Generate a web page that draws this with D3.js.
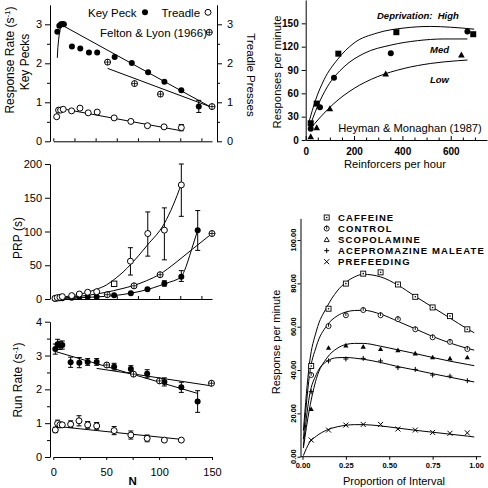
<!DOCTYPE html>
<html><head><meta charset="utf-8">
<script src="https://cdn.jsdelivr.net/npm/d3@7"></script>
<style>
body{margin:0;background:#fff}
svg{display:block}
text{font-family:"Liberation Sans",Arial,sans-serif;fill:#000}
</style>
</head><body>
<svg id="c" width="488" height="488"></svg>
<script>
// ---------- Panel A: response rate vs N ----------
const aKeyPeckN = [3.8,5.7,7.3,8.8,10,17.6,25.5,33.7,41.5,58,74.2,89.6,105,121,137.5];
const aKeyPeckRate = [2.81,2.96,3.0,3.01,3.0,2.43,2.38,2.28,2.28,2.16,2.01,1.77,1.53,1.31,0.89];
const aTreadleN = [3.2,5,6.9,9.4,17.3,25.2,33,41.5,57.5,73.3,89,104.7,121];
const aTreadleRate = [0.63,0.80,0.80,0.82,0.78,0.85,0.73,0.75,0.60,0.51,0.40,0.37,0.35];
const aFeltonN = [51.3,76.8,101.3,150];
const aFeltonRate = [2.03,1.48,1.21,0.89];
const aErrN = [137.5,121];
const aErrLo = [0.74,0.27];
const aErrHi = [1.05,0.43];
const aFitKeyPeckN = [3.8,4.3,5,5.8,6.7,8,9.5,150];
const aFitKeyPeckRate = [2.14,2.4,2.6,2.78,2.9,2.95,2.96,0.86];
const aFitTreadleN = [2,3,4,5,6,7.5,9.4,121];
const aFitTreadleRate = [0.64,0.71,0.75,0.78,0.8,0.82,0.83,0.27];
const aFitFeltonN = [51.3,150];
const aFitFeltonRate = [1.87,0.87];
const aTicks = [0,1,2,3];

// ---------- Panel B: PRP vs N ----------
const bOpenN = [1.6,3.8,6.3,8.5,17.4,24.6,32.5,41,72.9,89.3,105,121];
const bOpenPRP = [1,2,2.5,3.5,5,7.4,10,10.8,56,97,102,169];
const bOpenErrN = [72.9,89.3,105,121];
const bOpenErrLo = [35.5,63.5,58,122.5];
const bOpenErrHi = [76,129,135,200];
const bFilledN = [1.6,3.8,6.3,8.5,17.4,24.6,32.5,41,57.5,73.3,89,105,121,136.5];
const bFilledPRP = [0.5,0.8,1,1.2,2,3,3.5,3.5,5.5,8.5,14.5,23,33,102];
const bFilledErrN = [105,121,136.5];
const bFilledErrLo = [19,26,72];
const bFilledErrHi = [27,42,131];
const bFeltonN = [51,76.3,101,150];
const bFeltonPRP = [6.4,19.5,36,97];
const bSquareN = [57.5];
const bSquarePRP = [22.5];
const bFitOpenN = [1.6,10,20,29,40,50.5,60,66,73,89,105,113,121];
const bFitOpenPRP = [1,3,5.5,8.5,14,21,32,40,51,80,112,138,170];
const bFitFilledN = [1.6,20,40,57,73,89,100,110,117,121,124,127,131,136.5];
const bFitFilledPRP = [0.5,1.5,3,5,8.5,14,19.5,25,29,33,42,55,75,102];
const bFitFeltonN = [1.6,20,35,50,64,76,88,101,115,130,150];
const bFitFeltonPRP = [0.5,3,6,10,15,20,27,37,53,72,97];
const bTicks = [0,50,100,150,200];

// ---------- Panel C: run rate vs N ----------
const cFilledN = [1.9,4.1,6.3,8.5,16.4,24.6,32.5,41,57.5,73.3,88.7,105,121,136.4];
const cFilledRate = [3.19,3.33,3.30,3.31,2.80,2.79,2.81,2.81,2.67,2.60,2.46,2.22,2.06,1.64];
const cFilledErr = [0.15,0.15,0.12,0.12,0.15,0.15,0.1,0.1,0.1,0.1,0.12,0.12,0.15,0.32];
const cOpenN = [1.9,4.1,6.3,8.5,16.4,24.3,32.5,41,57.5,73.3,88.7,105,121];
const cOpenRate = [0.8,0.99,0.95,0.95,0.97,1.07,0.95,0.92,0.78,0.65,0.55,0.50,0.50];
const cOpenErr = [0.08,0.1,0.08,0.06,0.1,0.15,0.1,0.1,0.12,0.12,0.1,0.05,0.04];
const cFeltonN = [50.5,75.8,100.4,149.5];
const cFeltonRate = [2.72,2.45,2.25,2.18];
const cFitKeyPeckN = [1.9,136.4];
const cFitKeyPeckRate = [3.12,1.88];
const cFitFeltonN = [41,150];
const cFitFeltonRate = [2.62,2.1];
const cFitTreadleN = [1.9,121.5];
const cFitTreadleRate = [0.91,0.52];
const cTicks = [0,1,2,3,4];
const nTicks = [0,50,100,150];

// ---------- Panel D: Heyman & Monaghan ----------
const dHighR = [20.7,45.5,135,375,693];
const dHighResp = [21.5,46.8,111,138.6,136];
const dMedR = [20.7,59,117,352,669];
const dMedResp = [14.6,42,80,111.6,139.5];
const dLowR = [20.7,45.5,100,331,644];
const dLowResp = [4.3,15.9,40.3,85,109.4];
const dFitHighR = [14,41,76,131,200,296,407,517,600,697];
const dFitHighResp = [23.6,51.5,77.5,103.3,124.7,137.6,144,146,145,142.5];
const dFitMedR = [14,48,89.5,158.6,241,352,462,572,669];
const dFitMedResp = [14.9,42.6,68.4,94.1,111.3,122,127.7,129.9,129.9];
const dFitLowR = [14,62,117,200,296,407,517,627,669];
const dFitLowResp = [12.6,29.8,47,66.3,81.3,92,98.4,101.9,102.8];
const dYTicks = [0,30,60,90,120,150];
const dXTicks = [0,200,400,600];

// ---------- Panel E: response per minute vs proportion of interval ----------
const eLegend = ["CAFFEINE","CONTROL","SCOPOLAMINE","ACEPROMAZINE MALEATE","PREFEEDING"];
const eX = [0.05,0.15,0.25,0.35,0.45,0.55,0.65,0.75,0.85,0.95];
const eCaffeine = [41.9,68.3,79.9,84.5,85.1,79.5,73.8,68.9,64.9,58.8];
const eControl = [37.7,60.3,65.3,67.7,65.3,63.5,58.8,55.1,53.0,49.7];
const eScopolamine = [22,50.3,51.4,50.8,49.7,49.2,47.7,45.9,45.4,45.9];
const eAcepromazine = [30,44.2,45.1,45.4,44.2,41.1,40.3,37.7,37.2,35.1];
const ePrefeeding = [7.7,12.3,14.6,14.9,14.9,12.8,12.3,11.2,10.8,11];
const eFitX = [0.005,0.04,0.08,0.14,0.2,0.25,0.3,0.35,0.45,0.55,0.65,0.75,0.85,0.95,0.99];
const eFitCaffeine = [12,43,58,69,76.5,80.5,83,84.2,83,79.2,74,69,64,59,57.2];
const eFitControl = [8,37.5,51,60.5,65,66.8,67.5,67.6,65.8,62.5,59,55.5,52.5,50,49.2];
const eFitScopolamine = [4,22,36,45.5,50,51.8,52.3,52.3,51,49.3,47.6,45.8,44.1,42.6,42];
const eFitAcepromazine = [5,28,38,44,45.7,45.8,45.5,45,43.5,41.6,40,38.3,36.7,35.1,34.5];
const eFitPrefeeding = [0.5,6.5,9.5,12.3,13.8,14.5,14.8,14.8,14.2,13.2,12.2,11.3,10.4,9.5,9.1];
const eYTicks = [0,20,40,60,80,100];
const eXTicks = [0,0.25,0.5,0.75,1];

// ================= drawing =================
const svg = d3.select("#c");
const zip = (a,b) => a.map((v,i)=>[v,b[i]]);
const fmtInt = d3.format("d");

function styleAxis(g, fs, weight, family){
  g.selectAll("path,line").attr("stroke","#000").attr("stroke-width",1);
  g.selectAll("text").attr("font-size",fs).attr("font-weight",weight||"normal")
   .attr("font-family",family||"Liberation Sans, Arial, sans-serif").attr("fill","#000");
  g.attr("font-family",null);
}
function marker(g, type, x, y, r){
  r = r||3;
  if(type==="filled") g.append("circle").attr("cx",x).attr("cy",y).attr("r",r).attr("fill","#000");
  else if(type==="open") g.append("circle").attr("cx",x).attr("cy",y).attr("r",r).attr("fill","#fff").attr("stroke","#000");
  else if(type==="felton"){
    g.append("circle").attr("cx",x).attr("cy",y).attr("r",r).attr("fill","#fff").attr("stroke","#000");
    g.append("line").attr("x1",x-r).attr("x2",x+r).attr("y1",y).attr("y2",y).attr("stroke","#000").attr("stroke-width",0.8);
    g.append("line").attr("x1",x).attr("x2",x).attr("y1",y-r).attr("y2",y+r).attr("stroke","#000").attr("stroke-width",0.8);
  }
  else if(type==="square") g.append("rect").attr("x",x-r).attr("y",y-r).attr("width",2*r).attr("height",2*r).attr("fill","#fff").attr("stroke","#000");
  else if(type==="sqdot"){
    g.append("rect").attr("x",x-r).attr("y",y-r).attr("width",2*r).attr("height",2*r).attr("fill","#fff").attr("stroke","#000").attr("stroke-width",0.9);
    g.append("circle").attr("cx",x).attr("cy",y).attr("r",0.8).attr("fill","#000");
  }
  else if(type==="cirbar"){
    g.append("circle").attr("cx",x).attr("cy",y).attr("r",r).attr("fill","#fff").attr("stroke","#000").attr("stroke-width",0.9);
    g.append("line").attr("x1",x).attr("x2",x).attr("y1",y-r-0.5).attr("y2",y+r*0.3).attr("stroke","#000").attr("stroke-width",0.9);
  }
  else if(type==="tri") g.append("path").attr("d",`M${x},${y-r}L${x+r},${y+r*0.8}L${x-r},${y+r*0.8}Z`).attr("fill","#000");
  else if(type==="trio") g.append("path").attr("d",`M${x},${y-r}L${x+r},${y+r*0.8}L${x-r},${y+r*0.8}Z`).attr("fill","none").attr("stroke","#000").attr("stroke-width",0.9);
  else if(type==="plus"){
    g.append("path").attr("d",`M${x-r},${y}H${x+r}M${x},${y-r}V${y+r}`).attr("stroke","#000").attr("stroke-width",1);
  }
  else if(type==="cross"){
    g.append("path").attr("d",`M${x-r},${y-r}L${x+r},${y+r}M${x-r},${y+r}L${x+r},${y-r}`).attr("stroke","#000").attr("stroke-width",1);
  }
}
function errbar(g, x, y1, y2){
  g.append("path").attr("d",`M${x},${y1}V${y2}M${x-2.5},${y1}H${x+2.5}M${x-2.5},${y2}H${x+2.5}`)
   .attr("stroke","#000").attr("stroke-width",1).attr("fill","none");
}
function line(g, pts, xs, ys, curve){
  g.append("path").attr("d", d3.line().x(d=>xs(d[0])).y(d=>ys(d[1])).curve(curve||d3.curveLinear)(pts))
   .attr("fill","none").attr("stroke","#000").attr("stroke-width",1);
}
function rotText(x, y, str, size, angle, opts){
  const t = svg.append("text").attr("transform",`translate(${x},${y}) rotate(${angle})`)
    .attr("text-anchor","middle").attr("dy","0.35em").attr("font-size",size);
  if(opts && opts.family) t.attr("font-family",opts.family);
  if(opts && opts.weight) t.attr("font-weight",opts.weight);
  return t;
}

const xN = d3.scaleLinear().domain([0,150]).range([53.3,212]);
const halfTicks = [0.5,1.5,2.5];

// ----- Panel A -----
{
  const y = d3.scaleLinear().domain([0,3.5]).range([141.3,4.8]);
  const g = svg.append("g");
  const gl = g.append("g").attr("transform","translate(50,0)")
    .call(d3.axisLeft(y).tickValues(aTicks).tickFormat(fmtInt).tickSizeInner(5).tickSizeOuter(0).tickPadding(3));
  styleAxis(gl, 11);
  const glm = g.append("g").attr("transform","translate(50,0)")
    .call(d3.axisLeft(y).tickValues(halfTicks).tickSize(3).tickFormat(""));
  glm.select(".domain").remove(); styleAxis(glm, 11);
  const gr = g.append("g").attr("transform","translate(217,0)")
    .call(d3.axisRight(y).tickValues(aTicks).tickFormat(fmtInt).tickSizeInner(5).tickSizeOuter(0).tickPadding(5));
  styleAxis(gr, 11);
  const grm = g.append("g").attr("transform","translate(217,0)")
    .call(d3.axisRight(y).tickValues(halfTicks).tickSize(3).tickFormat(""));
  grm.select(".domain").remove(); styleAxis(grm, 11);
  const gx = g.append("g").attr("transform",`translate(0,${y(0)})`)
    .call(d3.axisBottom(xN).ticks(6).tickSizeInner(-3).tickSizeOuter(0).tickFormat(""));
  styleAxis(gx, 11);

  line(g, zip(aFitKeyPeckN,aFitKeyPeckRate), xN, y);
  line(g, zip(aFitFeltonN,aFitFeltonRate), xN, y);
  line(g, zip(aFitTreadleN,aFitTreadleRate), xN, y);
  aErrN.forEach((n,i)=>errbar(g, xN(n), y(aErrLo[i]), y(aErrHi[i])));
  aKeyPeckN.forEach((n,i)=>marker(g,"filled",xN(n),y(aKeyPeckRate[i])));
  aTreadleN.forEach((n,i)=>marker(g,"open",xN(n),y(aTreadleRate[i])));
  aFeltonN.forEach((n,i)=>marker(g,"felton",xN(n),y(aFeltonRate[i])));

  // legend
  svg.append("text").attr("x",88).attr("y",16.5).attr("font-size",11.5).text("Key Peck");
  marker(g,"filled",145,12.3);
  svg.append("text").attr("x",161.5).attr("y",16.5).attr("font-size",11.5).text("Treadle");
  marker(g,"open",208,12.3);
  svg.append("text").attr("x",100).attr("y",36.5).attr("font-size",11.5).text("Felton & Lyon (1966)");
  marker(g,"felton",209.3,32.3);

  const t1 = rotText(10, 60, "", 12, -90);
  t1.append("tspan").text("Response Rate (s");
  t1.append("tspan").attr("font-size",8).attr("dy",-4).text("-1");
  t1.append("tspan").attr("dy",4).text(")");
  rotText(25, 62, "Key Pecks", 12, -90).text("Key Pecks");
  rotText(251, 75, "Treadle Presses", 11.5, 90).text("Treadle Presses");
}

// ----- Panel B -----
{
  const y = d3.scaleLinear().domain([0,200]).range([299,164]);
  const g = svg.append("g");
  const gl = g.append("g").attr("transform","translate(50,0)")
    .call(d3.axisLeft(y).tickValues(bTicks).tickFormat(fmtInt).tickSizeInner(5).tickSizeOuter(0).tickPadding(3));
  styleAxis(gl, 11);
  const gx = g.append("g").attr("transform",`translate(0,${y(0)})`)
    .call(d3.axisBottom(xN).ticks(6).tickSizeInner(-3).tickSizeOuter(0).tickFormat(""));
  styleAxis(gx, 11);

  line(g, zip(bFitOpenN,bFitOpenPRP), xN, y, d3.curveMonotoneX);
  line(g, zip(bFitFilledN,bFitFilledPRP), xN, y, d3.curveMonotoneX);
  line(g, zip(bFitFeltonN,bFitFeltonPRP), xN, y, d3.curveMonotoneX);
  bOpenErrN.forEach((n,i)=>errbar(g, xN(n), y(bOpenErrLo[i]), y(bOpenErrHi[i])));
  bFilledErrN.forEach((n,i)=>errbar(g, xN(n), y(bFilledErrLo[i]), y(bFilledErrHi[i])));
  bFilledN.forEach((n,i)=>marker(g,"filled",xN(n),y(bFilledPRP[i])));
  bOpenN.forEach((n,i)=>marker(g,"open",xN(n),y(bOpenPRP[i])));
  bFeltonN.forEach((n,i)=>marker(g,"felton",xN(n),y(bFeltonPRP[i])));
  bSquareN.forEach((n,i)=>marker(g,"square",xN(n),y(bSquarePRP[i]),2.7));

  rotText(18, 238, "PRP (s)", 12, -90).text("PRP (s)");
}

// ----- Panel C -----
{
  const y = d3.scaleLinear().domain([0,4]).range([457,321.7]);
  const g = svg.append("g");
  const gl = g.append("g").attr("transform","translate(50,0)")
    .call(d3.axisLeft(y).tickValues(cTicks).tickFormat(fmtInt).tickSizeInner(5).tickSizeOuter(0).tickPadding(3));
  styleAxis(gl, 11);
  const glm = g.append("g").attr("transform","translate(50,0)")
    .call(d3.axisLeft(y).tickValues([0.5,1.5,2.5,3.5]).tickSize(3).tickFormat(""));
  glm.select(".domain").remove(); styleAxis(glm, 11);
  const gx = g.append("g").attr("transform",`translate(0,${y(0)})`)
    .call(d3.axisBottom(xN).tickValues(nTicks).tickFormat(fmtInt).tickSizeInner(3).tickSizeOuter(0).tickPadding(8));
  styleAxis(gx, 11);
  const gxm = g.append("g").attr("transform",`translate(0,${y(0)})`)
    .call(d3.axisBottom(xN).tickValues([25,75,125]).tickSize(3).tickFormat(""));
  gxm.select(".domain").remove(); styleAxis(gxm, 11);

  line(g, zip(cFitKeyPeckN,cFitKeyPeckRate), xN, y);
  line(g, zip(cFitFeltonN,cFitFeltonRate), xN, y);
  line(g, zip(cFitTreadleN,cFitTreadleRate), xN, y);
  cFilledN.forEach((n,i)=>errbar(g, xN(n), y(cFilledRate[i]-cFilledErr[i]), y(cFilledRate[i]+cFilledErr[i])));
  cOpenN.forEach((n,i)=>errbar(g, xN(n), y(cOpenRate[i]-cOpenErr[i]), y(cOpenRate[i]+cOpenErr[i])));
  cFilledN.forEach((n,i)=>marker(g,"filled",xN(n),y(cFilledRate[i])));
  cOpenN.forEach((n,i)=>marker(g,"open",xN(n),y(cOpenRate[i])));
  cFeltonN.forEach((n,i)=>marker(g,"felton",xN(n),y(cFeltonRate[i])));

  const t = rotText(18, 380, "", 12, -90);
  t.append("tspan").text("Run Rate (s");
  t.append("tspan").attr("font-size",8).attr("dy",-4).text("-1");
  t.append("tspan").attr("dy",4).text(")");
  svg.append("text").attr("x",xN(75)).attr("y",485).attr("text-anchor","middle")
    .attr("font-size",11.5).attr("font-weight","bold").text("N");
}

// ----- Panel D -----
{
  const x = d3.scaleLinear().domain([0,750]).range([305.7,487]);
  const y = d3.scaleLinear().domain([0,180]).range([140,0]);
  const g = svg.append("g");
  const gl = g.append("g").attr("transform","translate(305.7,0)")
    .call(d3.axisLeft(y).tickValues(dYTicks).tickFormat(fmtInt).tickSizeInner(4).tickSizeOuter(0).tickPadding(3));
  styleAxis(gl, 10, "bold");
  const gx = g.append("g").attr("transform",`translate(0,${y(0)})`)
    .call(d3.axisBottom(x).tickValues(dXTicks).tickFormat(fmtInt).tickSizeInner(-4).tickSizeOuter(0).tickPadding(8));
  styleAxis(gx, 10, "bold");
  const gxm = g.append("g").attr("transform",`translate(0,${y(0)})`)
    .call(d3.axisBottom(x).tickValues(d3.range(50,750,50).filter(v=>v%200!==0)).tickSize(-2.5).tickFormat(""));
  gxm.select(".domain").remove(); styleAxis(gxm, 10);

  line(g, zip(dFitHighR,dFitHighResp), x, y, d3.curveMonotoneX);
  line(g, zip(dFitMedR,dFitMedResp), x, y, d3.curveMonotoneX);
  line(g, zip(dFitLowR,dFitLowResp), x, y, d3.curveMonotoneX);
  dHighR.forEach((r,i)=>g.append("rect").attr("x",x(r)-3).attr("y",y(dHighResp[i])-3).attr("width",6).attr("height",6).attr("fill","#000"));
  dMedR.forEach((r,i)=>marker(g,"filled",x(r),y(dMedResp[i]),3));
  dLowR.forEach((r,i)=>marker(g,"tri",x(r),y(dLowResp[i]),3.3));

  svg.append("text").attr("x",377).attr("y",18.5).attr("font-size",9.5).attr("font-style","italic").attr("font-weight","bold")
    .text("Deprivation:\u00a0\u00a0High");
  svg.append("text").attr("x",430).attr("y",53).attr("font-size",9.5).attr("font-style","italic").attr("font-weight","bold").text("Med");
  svg.append("text").attr("x",430).attr("y",83).attr("font-size",9.5).attr("font-style","italic").attr("font-weight","bold").text("Low");
  svg.append("text").attr("x",410).attr("y",132).attr("text-anchor","middle").attr("font-size",11.2).text("Heyman & Monaghan (1987)");
  svg.append("text").attr("x",395).attr("y",168).attr("text-anchor","middle").attr("font-size",11.2).text("Reinforcers per hour");
  rotText(277, 72, "", 11.3, -90).text("Responses per minute");
}

// ----- Panel E -----
{
  const x = d3.scaleLinear().domain([0,1]).range([302.5,476]);
  const y = d3.scaleLinear().domain([0,110]).range([456.7,218.4]);
  const g = svg.append("g");
  const mono = "Liberation Mono, DejaVu Sans Mono, monospace";
  const gl = g.append("g").attr("transform","translate(300.5,0)")
    .call(d3.axisLeft(y).tickValues(eYTicks).tickSizeInner(3).tickSizeOuter(0).tickFormat(""));
  styleAxis(gl, 7);
  eYTicks.forEach(v=>rotText(293.5, y(v), "", 7.5, -90, {family:mono, weight:"bold"}).text(d3.format(".2f")(v)));
  const gx = g.append("g").attr("transform",`translate(0,${y(0)})`)
    .call(d3.axisBottom(x).tickValues(eXTicks).tickSizeInner(3).tickSizeOuter(0).tickPadding(2.5).tickFormat(d3.format(".2f")));
  styleAxis(gx, 7.5, "bold", mono);
  gx.select(".domain").attr("d", `M${300.5},0H${x(1.03)}`);

  const series = [
    [eCaffeine, eFitCaffeine, "sqdot"],
    [eControl, eFitControl, "cirbar"],
    [eScopolamine, eFitScopolamine, "tri"],
    [eAcepromazine, eFitAcepromazine, "plus"],
    [ePrefeeding, eFitPrefeeding, "cross"]
  ];
  series.forEach(s=>line(g, zip(eFitX, s[1]), x, y, d3.curveMonotoneX));
  series.forEach(s=>eX.forEach((v,i)=>marker(g, s[2], x(v), y(s[0][i]), s[2]==="tri"?2.6:2.5)));

  const legendMarks = ["sqdot","cirbar","trio","plus","cross"];
  eLegend.forEach((name,i)=>{
    const yy = 217.5 + i*11.05;
    marker(g, legendMarks[i], 326.7, yy, 2.5);
    svg.append("text").attr("x",338).attr("y",yy+3.4).attr("font-size",9.5).attr("font-weight","bold")
      .attr("letter-spacing",1.1).text(name);
  });
  svg.append("text").attr("x",394).attr("y",485).attr("text-anchor","middle").attr("font-size",11).text("Proportion of Interval");
  rotText(276, 342, "", 11, -90).text("Response per minute");
}
</script>
</body></html>
